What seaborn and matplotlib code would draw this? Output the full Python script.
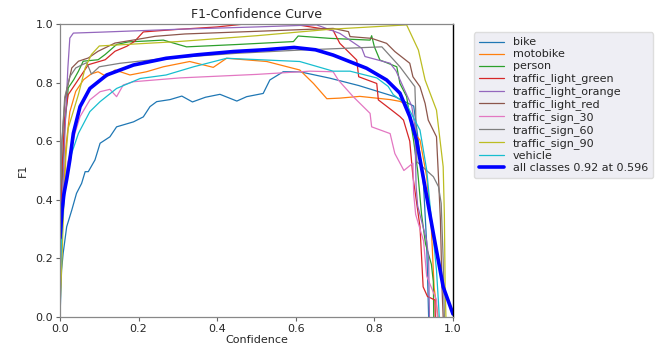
import numpy as np
import pandas as pd
import matplotlib
matplotlib.use("Agg")
import matplotlib.pyplot as plt
import seaborn as sns

class_names = ["bike", "motobike", "person", "traffic_light_green", "traffic_light_orange",
               "traffic_light_red", "traffic_sign_30", "traffic_sign_60", "traffic_sign_90", "vehicle"]

bike_conf = [0.0, 0.004, 0.008, 0.017, 0.03, 0.042, 0.055, 0.064, 0.072, 0.089, 0.102, 0.127, 0.144, 0.187,
             0.212, 0.229, 0.246, 0.28, 0.31, 0.337, 0.37, 0.407, 0.45, 0.475, 0.517, 0.534, 0.568, 0.61,
             0.687, 0.76, 0.852, 0.87, 0.9, 0.91, 0.925, 0.933, 0.937, 0.938]
bike_f1 = [0.0, 0.16, 0.217, 0.308, 0.365, 0.422, 0.456, 0.496, 0.496, 0.536, 0.593, 0.615, 0.649, 0.666,
           0.683, 0.718, 0.735, 0.742, 0.754, 0.734, 0.75, 0.76, 0.737, 0.752, 0.763, 0.809, 0.837, 0.837,
           0.815, 0.79, 0.752, 0.74, 0.72, 0.62, 0.45, 0.25, 0.05, 0.0]

motobike_conf = [0.0, 0.008, 0.015, 0.025, 0.04, 0.06, 0.08, 0.097, 0.119, 0.14, 0.178, 0.22, 0.263, 0.33,
                 0.39, 0.424, 0.526, 0.61, 0.645, 0.679, 0.712, 0.763, 0.84, 0.865, 0.882, 0.9, 0.916,
                 0.933, 0.945, 0.952, 0.957, 0.96, 0.962]
motobike_f1 = [0.05, 0.4, 0.58, 0.7, 0.77, 0.81, 0.83, 0.837, 0.82, 0.843, 0.826, 0.837, 0.854, 0.872,
               0.852, 0.883, 0.872, 0.843, 0.797, 0.745, 0.747, 0.753, 0.742, 0.736, 0.725, 0.63, 0.604,
               0.479, 0.3, 0.1, 0.05, 0.02, 0.0]

person_conf = [0.0, 0.005, 0.012, 0.021, 0.035, 0.047, 0.059, 0.097, 0.115, 0.144, 0.174, 0.22, 0.263,
               0.322, 0.45, 0.594, 0.606, 0.687, 0.789, 0.793, 0.8, 0.814, 0.857, 0.865, 0.882, 0.89,
               0.9, 0.91, 0.92, 0.93, 0.945, 0.95, 0.951]
person_f1 = [0.1, 0.45, 0.65, 0.782, 0.81, 0.839, 0.873, 0.878, 0.896, 0.93, 0.939, 0.942, 0.945,
             0.922, 0.93, 0.94, 0.959, 0.951, 0.945, 0.96, 0.922, 0.877, 0.854, 0.797, 0.752, 0.684,
             0.6, 0.5, 0.35, 0.25, 0.18, 0.12, 0.0]

tl_green_conf = [0.0, 0.005, 0.012, 0.021, 0.038, 0.055, 0.072, 0.115, 0.14, 0.17, 0.19, 0.212, 0.242,
                 0.293, 0.4, 0.47, 0.6, 0.695, 0.712, 0.755, 0.76, 0.806, 0.81, 0.844, 0.865, 0.874,
                 0.89, 0.898, 0.916, 0.924, 0.935, 0.954, 0.955]
tl_green_f1 = [0.2, 0.5, 0.68, 0.759, 0.793, 0.827, 0.861, 0.878, 0.907, 0.924, 0.941, 0.973, 0.976,
               0.981, 0.99, 1.0, 0.998, 0.978, 0.934, 0.877, 0.82, 0.797, 0.741, 0.706, 0.684, 0.672,
               0.6, 0.48, 0.308, 0.103, 0.07, 0.058, 0.0]

tl_orange_conf = [0.0, 0.005, 0.013, 0.02, 0.025, 0.034, 0.1, 0.2, 0.3, 0.4, 0.5, 0.653, 0.712, 0.768,
                  0.776, 0.84, 0.855, 0.875, 0.895, 0.903, 0.906, 0.91, 0.933, 0.938, 0.94]
tl_orange_f1 = [0.1, 0.35, 0.645, 0.85, 0.952, 0.969, 0.972, 0.977, 0.982, 0.986, 0.99, 0.997, 0.968,
                0.917, 0.889, 0.866, 0.84, 0.78, 0.72, 0.65, 0.45, 0.38, 0.26, 0.2, 0.0]

tl_red_conf = [0.0, 0.005, 0.013, 0.02, 0.03, 0.047, 0.072, 0.097, 0.14, 0.19, 0.242, 0.318, 0.5, 0.695,
               0.734, 0.738, 0.793, 0.831, 0.852, 0.89, 0.898, 0.916, 0.929, 0.937, 0.958, 0.963, 0.968,
               0.972, 0.975]
tl_red_f1 = [0.35, 0.6, 0.747, 0.79, 0.85, 0.873, 0.884, 0.907, 0.935, 0.946, 0.958, 0.966, 0.975, 0.985,
             0.974, 0.957, 0.951, 0.934, 0.906, 0.866, 0.82, 0.786, 0.729, 0.672, 0.615, 0.479, 0.33,
             0.1, 0.0]

ts30_conf = [0.0, 0.005, 0.012, 0.02, 0.03, 0.038, 0.051, 0.076, 0.102, 0.127, 0.144, 0.161, 0.187,
             0.305, 0.5, 0.636, 0.695, 0.708, 0.746, 0.789, 0.793, 0.84, 0.852, 0.875, 0.898, 0.9,
             0.905, 0.925, 0.933, 0.958, 0.96]
ts30_f1 = [0.1, 0.3, 0.45, 0.53, 0.58, 0.627, 0.684, 0.741, 0.769, 0.777, 0.752, 0.792, 0.803,
           0.816, 0.828, 0.839, 0.837, 0.809, 0.752, 0.695, 0.649, 0.626, 0.558, 0.5, 0.525, 0.42,
           0.35, 0.26, 0.14, 0.058, 0.0]

ts60_conf = [0.0, 0.005, 0.012, 0.025, 0.04, 0.055, 0.068, 0.08, 0.1, 0.153, 0.27, 0.45, 0.61, 0.819,
             0.865, 0.903, 0.905, 0.908, 0.95, 0.963, 0.97, 0.975, 0.978]
ts60_f1 = [0.4, 0.6, 0.75, 0.82, 0.85, 0.86, 0.868, 0.829, 0.854, 0.866, 0.883, 0.9, 0.911, 0.922,
           0.854, 0.786, 0.706, 0.53, 0.479, 0.445, 0.388, 0.195, 0.0]

ts90_conf = [0.0, 0.005, 0.01, 0.015, 0.021, 0.047, 0.064, 0.08, 0.1, 0.3, 0.5, 0.687, 0.882, 0.912,
             0.929, 0.958, 0.975, 0.978, 0.98, 0.982]
ts90_f1 = [0.03, 0.2, 0.4, 0.55, 0.645, 0.76, 0.85, 0.896, 0.925, 0.94, 0.96, 0.982, 0.997, 0.911,
           0.809, 0.706, 0.513, 0.35, 0.1, 0.0]

vehicle_conf = [0.0, 0.005, 0.01, 0.02, 0.03, 0.047, 0.076, 0.102, 0.144, 0.204, 0.27, 0.34, 0.424,
                0.526, 0.61, 0.695, 0.738, 0.806, 0.835, 0.848, 0.882, 0.916, 0.933, 0.941, 0.958,
                0.963, 0.965]
vehicle_f1 = [0.12, 0.3, 0.4, 0.5, 0.56, 0.627, 0.701, 0.735, 0.78, 0.814, 0.826, 0.854, 0.883,
              0.877, 0.872, 0.839, 0.839, 0.816, 0.787, 0.759, 0.725, 0.638, 0.502, 0.389, 0.16,
              0.05, 0.0]

all_conf = [0.0, 0.005, 0.01, 0.017, 0.025, 0.034, 0.051, 0.076, 0.119, 0.187, 0.27, 0.35, 0.441, 0.52,
            0.596, 0.65, 0.695, 0.78, 0.831, 0.865, 0.89, 0.907, 0.924, 0.95, 0.975, 1.0]
all_f1 = [0.27, 0.36, 0.42, 0.47, 0.536, 0.627, 0.718, 0.78, 0.826, 0.86, 0.883, 0.895, 0.906, 0.912,
          0.92, 0.912, 0.894, 0.849, 0.809, 0.764, 0.684, 0.604, 0.479, 0.285, 0.103, 0.01]
all_label = "all classes 0.92 at 0.596"

series = [(bike_conf, bike_f1), (motobike_conf, motobike_f1), (person_conf, person_f1),
          (tl_green_conf, tl_green_f1), (tl_orange_conf, tl_orange_f1), (tl_red_conf, tl_red_f1),
          (ts30_conf, ts30_f1), (ts60_conf, ts60_f1), (ts90_conf, ts90_f1), (vehicle_conf, vehicle_f1)]

rows = []
for name, (c, f) in zip(class_names, series):
    for ci, fi in zip(c, f):
        rows.append({"cls": name, "Confidence": ci, "F1": fi})
df = pd.DataFrame(rows)
df_all = pd.DataFrame({"Confidence": all_conf, "F1": all_f1})

sns.set_theme(style="white")
plt.rcParams["font.family"] = ["DejaVu Sans"]

fig = plt.figure(figsize=(6.56, 3.45), dpi=100)
ax = fig.add_axes([60 / 656, 1 - 317 / 345, 393 / 656, 293 / 345])

palette = sns.color_palette("tab10", 10)
sns.lineplot(data=df, x="Confidence", y="F1", hue="cls", hue_order=class_names, palette=palette,
             linewidth=0.9, estimator=None, sort=True, ax=ax)
sns.lineplot(data=df_all, x="Confidence", y="F1", color="blue", linewidth=2.6, estimator=None,
             label=all_label, ax=ax)

ax.set_xlim(0, 1)
ax.set_ylim(0, 1)
ax.set_xticks([0, 0.2, 0.4, 0.6, 0.8, 1.0])
ax.set_yticks([0, 0.2, 0.4, 0.6, 0.8, 1.0])
ax.tick_params(labelsize=8, length=3, width=0.8, color="#666666", bottom=True, left=True, pad=2)
ax.set_xlabel("Confidence", fontsize=8, labelpad=1)
ax.set_ylabel("F1", fontsize=8, labelpad=5)
ax.set_title("F1-Confidence Curve", fontsize=9, pad=4)
for side in ["left", "bottom", "top"]:
    ax.spines[side].set_color("#888888")
    ax.spines[side].set_linewidth(0.9)
ax.spines["right"].set_color("black")
ax.spines["right"].set_linewidth(1.0)

handles, labels = ax.get_legend_handles_labels()
leg = ax.legend(handles, labels, loc="upper left", bbox_to_anchor=(1.04, 0.99), fontsize=8,
                frameon=True, facecolor="#eeeef4", edgecolor="#dddddd", framealpha=1.0,
                handlelength=2.2, labelspacing=0.18, borderpad=0.45)

fig.savefig("out.png", dpi=100)
